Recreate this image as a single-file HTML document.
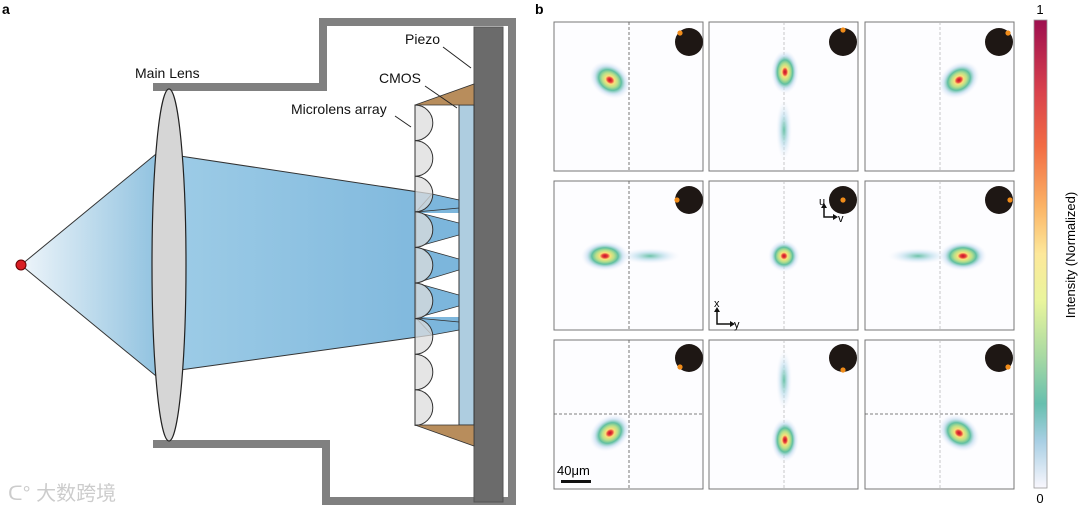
<!DOCTYPE html>
<html><head><meta charset="utf-8"><style>
body{margin:0;background:#fff;}
svg{display:block;font-family:"Liberation Sans",Arial,sans-serif;}
</style></head><body>
<svg width="1080" height="512" viewBox="0 0 1080 512" xmlns="http://www.w3.org/2000/svg">
<defs>
<linearGradient id="cone" x1="0" x2="1" y1="0" y2="0">
<stop offset="0" stop-color="#eef5fa"/><stop offset="1" stop-color="#92c3e0"/></linearGradient>
<linearGradient id="beam" x1="0" x2="1"><stop offset="0" stop-color="#9ccbe6"/><stop offset="1" stop-color="#7cb6dc"/></linearGradient>
<linearGradient id="cb" x1="0" x2="0" y1="0" y2="1">
<stop offset="0" stop-color="#9e0f4f"/><stop offset="0.15" stop-color="#d8404d"/><stop offset="0.27" stop-color="#f26c44"/>
<stop offset="0.4" stop-color="#fbb466"/><stop offset="0.5" stop-color="#fde89a"/><stop offset="0.6" stop-color="#e9f59c"/>
<stop offset="0.72" stop-color="#a7d9a3"/><stop offset="0.82" stop-color="#66bfae"/><stop offset="0.9" stop-color="#a8cfe4"/>
<stop offset="1" stop-color="#f9f7fd"/></linearGradient>
<radialGradient id="spot">
<stop offset="0" stop-color="#c0102a"/><stop offset="0.12" stop-color="#e8423a"/><stop offset="0.22" stop-color="#fbe07a"/>
<stop offset="0.38" stop-color="#b8e08a"/><stop offset="0.55" stop-color="#5fbfa0"/><stop offset="0.75" stop-color="#bcd8ee" stop-opacity="0.6"/>
<stop offset="1" stop-color="#eef0fb" stop-opacity="0"/></radialGradient>
<radialGradient id="faint"><stop offset="0" stop-color="#6cc3a8"/><stop offset="0.5" stop-color="#b9dcec" stop-opacity="0.6"/><stop offset="1" stop-color="#eef0fb" stop-opacity="0"/></radialGradient>
</defs>

<text x="2" y="14" font-size="14" font-weight="bold">a</text>
<text x="535" y="14" font-size="14" font-weight="bold">b</text>

<!-- housing -->
<path d="M153 87 H323 V22 H512 V501 H326 V444 H153" fill="none" stroke="#808080" stroke-width="8"/>
<rect x="474" y="27" width="29" height="475" fill="#6b6b6b" stroke="#555" stroke-width="1"/>

<!-- cone -->
<polygon points="21,265 156,154 156,376" fill="url(#cone)" stroke="#333" stroke-width="1"/>
<polygon points="180,156 432,194 459,200 459,330 432,335 180,370" fill="url(#beam)"/>
<line x1="180" y1="156" x2="432" y2="194" stroke="#333"/>
<line x1="180" y1="370" x2="432" y2="335" stroke="#333"/>
<rect x="416" y="213" width="43" height="104" fill="#fff"/>
<!-- microlens cones -->
<g fill="#7cb6dc" stroke="#333" stroke-width="0.8">
<polygon points="432,194 459,200 459,208 416,212"/>
<polygon points="416,212 459,223 459,235 416,247"/>
<polygon points="416,247 459,259 459,270 416,283"/>
<polygon points="416,283 459,295 459,306 416,318"/>
<polygon points="416,318 459,322 459,330 432,335"/>
</g>
<!-- lens -->
<ellipse cx="169" cy="265" rx="17" ry="176" fill="#d6d6d6" stroke="#222" stroke-width="1.2"/>
<!-- microlens -->
<g fill="#dcdcdc" fill-opacity="0.75" stroke="#333" stroke-width="1">
<path d="M415 105 a17.8 17.8 0 0 1 0 35.6 a17.8 17.8 0 0 1 0 35.6 a17.8 17.8 0 0 1 0 35.6 a17.8 17.8 0 0 1 0 35.6 a17.8 17.8 0 0 1 0 35.6 a17.8 17.8 0 0 1 0 35.6 a17.8 17.8 0 0 1 0 35.6 a17.8 17.8 0 0 1 0 35.6 a17.8 17.8 0 0 1 0 35.6 Z"/>
</g>
<rect x="459" y="105" width="15" height="320" fill="#aecde0" stroke="#333" stroke-width="1"/>
<polygon points="415,105 474,84 474,105" fill="#b88d5c" stroke="#333" stroke-width="0.8"/>
<polygon points="415,425 474,446 474,425" fill="#b88d5c" stroke="#333" stroke-width="0.8"/>
<circle cx="21" cy="265" r="5" fill="#d81e24" stroke="#600" stroke-width="1"/>

<g font-size="14" fill="#111">
<text x="135" y="78">Main Lens</text>
<text x="405" y="44">Piezo</text>
<text x="379" y="83">CMOS</text>
<text x="291" y="114">Microlens array</text>
</g>
<g stroke="#222" stroke-width="1">
<line x1="443" y1="47" x2="471" y2="68"/>
<line x1="425" y1="86" x2="457" y2="108"/>
<line x1="395" y1="116" x2="411" y2="127"/>
</g>
<text x="8" y="500" font-size="20" fill="#ccc" font-family="'Liberation Sans','Noto Sans CJK SC',sans-serif">ᑕ° 大数跨境</text>

<!-- panels -->
<g>
<rect x="554" y="22" width="149" height="149" fill="#fdfdff" stroke="#777"/>
<rect x="709" y="22" width="149" height="149" fill="#fdfdff" stroke="#777"/>
<rect x="865" y="22" width="149" height="149" fill="#fdfdff" stroke="#777"/>
<rect x="554" y="181" width="149" height="149" fill="#fdfdff" stroke="#777"/>
<rect x="709" y="181" width="149" height="149" fill="#fdfdff" stroke="#777"/>
<rect x="865" y="181" width="149" height="149" fill="#fdfdff" stroke="#777"/>
<rect x="554" y="340" width="149" height="149" fill="#fdfdff" stroke="#777"/>
<rect x="709" y="340" width="149" height="149" fill="#fdfdff" stroke="#777"/>
<rect x="865" y="340" width="149" height="149" fill="#fdfdff" stroke="#777"/>
</g>
<g stroke="#555" stroke-width="0.8" stroke-dasharray="3,2">
<line x1="629" y1="22" x2="629" y2="171"/>
<line x1="629" y1="181" x2="629" y2="330"/>
<line x1="629" y1="340" x2="629" y2="489"/>
<line x1="554" y1="414" x2="703" y2="414"/>
<line x1="865" y1="414" x2="1014" y2="414"/>
</g>
<g stroke="#bbb" stroke-width="0.8" stroke-dasharray="3,2">
<line x1="784" y1="22" x2="784" y2="171"/>
<line x1="784" y1="181" x2="784" y2="330"/>
<line x1="784" y1="340" x2="784" y2="489"/>
<line x1="940" y1="22" x2="940" y2="171"/>
<line x1="940" y1="181" x2="940" y2="330"/>
<line x1="940" y1="340" x2="940" y2="489"/>
</g>
<!-- spots -->
<ellipse cx="784" cy="130" rx="8" ry="30" fill="url(#faint)"/>
<ellipse cx="784" cy="380" rx="8" ry="30" fill="url(#faint)"/>
<ellipse cx="650" cy="256" rx="30" ry="8" fill="url(#faint)"/>
<ellipse cx="918" cy="256" rx="30" ry="8" fill="url(#faint)"/>
<ellipse cx="610" cy="80" rx="22" ry="17" fill="url(#spot)" transform="rotate(35 610 80)"/>
<ellipse cx="785" cy="72" rx="14" ry="22" fill="url(#spot)"/>
<ellipse cx="959" cy="80" rx="22" ry="17" fill="url(#spot)" transform="rotate(-35 959 80)"/>
<ellipse cx="605" cy="256" rx="24" ry="15" fill="url(#spot)"/>
<ellipse cx="784" cy="256" rx="16" ry="16" fill="url(#spot)"/>
<ellipse cx="963" cy="256" rx="24" ry="15" fill="url(#spot)"/>
<ellipse cx="610" cy="433" rx="22" ry="17" fill="url(#spot)" transform="rotate(-35 610 433)"/>
<ellipse cx="785" cy="440" rx="14" ry="22" fill="url(#spot)"/>
<ellipse cx="959" cy="433" rx="22" ry="17" fill="url(#spot)" transform="rotate(35 959 433)"/>
<!-- discs -->
<g fill="#1e1714">
<circle cx="689" cy="42" r="14"/><circle cx="843" cy="42" r="14"/><circle cx="999" cy="42" r="14"/>
<circle cx="689" cy="200" r="14"/><circle cx="843" cy="200" r="14"/><circle cx="999" cy="200" r="14"/>
<circle cx="689" cy="358" r="14"/><circle cx="843" cy="358" r="14"/><circle cx="999" cy="358" r="14"/>
</g>
<g fill="#f08c1a">
<circle cx="680" cy="33" r="2.6"/><circle cx="843" cy="30" r="2.6"/><circle cx="1008" cy="33" r="2.6"/>
<circle cx="677" cy="200" r="2.6"/><circle cx="843" cy="200" r="2.6"/><circle cx="1010" cy="200" r="2.6"/>
<circle cx="680" cy="367" r="2.6"/><circle cx="843" cy="370" r="2.6"/><circle cx="1008" cy="367" r="2.6"/>
</g>
<!-- axes -->
<g stroke="#111" stroke-width="1.5" fill="none">
<path d="M824 207 V217 H834"/><path d="M717 311 V324 H731"/>
</g>
<g fill="#111"><polygon points="824,203 821,208 827,208"/><polygon points="838,217 833,214 833,220"/>
<polygon points="717,307 714,312 720,312"/><polygon points="735,324 730,321 730,327"/></g>
<text x="819" y="205" font-size="11">u</text><text x="838" y="222" font-size="11">v</text>
<text x="714" y="307" font-size="11">x</text><text x="734" y="328" font-size="11">y</text>
<text x="557" y="475" font-size="13">40μm</text>
<rect x="561" y="480" width="30" height="3" fill="#111"/>

<!-- colorbar -->
<rect x="1034" y="20" width="13" height="468" fill="url(#cb)" stroke="#999" stroke-width="0.8"/>
<text x="1040" y="14" font-size="13" text-anchor="middle">1</text>
<text x="1040" y="503" font-size="13" text-anchor="middle">0</text>
<text transform="translate(1075 255) rotate(-90)" font-size="13" text-anchor="middle">Intensity (Normalized)</text>
</svg>
</body></html>
